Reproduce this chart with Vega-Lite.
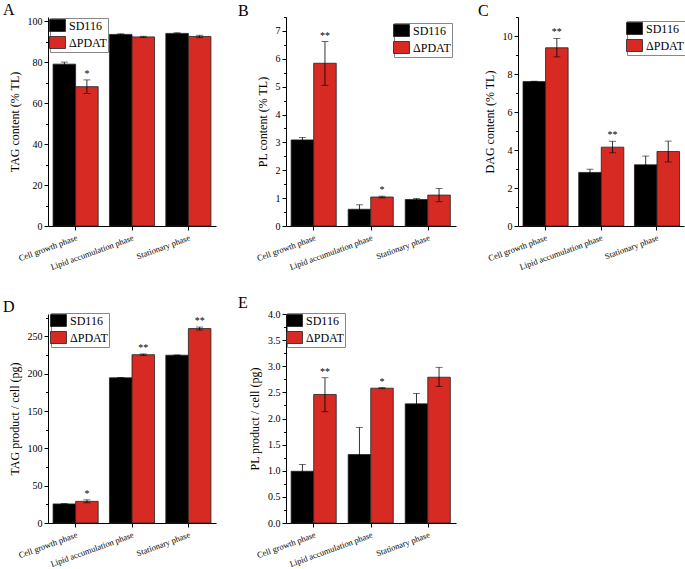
{
"$schema": "https://vega.github.io/schema/vega-lite/v6.json",
"padding": {"left": 3, "top": 2, "right": 2, "bottom": 2},
"background": "white",
"datasets": {
"A": [
{"phase": "Cell growth phase", "strain": "SD116", "value": 79.0, "lo": 78.0, "hi": 80.0, "sig": ""},
{"phase": "Cell growth phase", "strain": "ΔPDAT", "value": 68.0, "lo": 64.7, "hi": 71.3, "sig": "*"},
{"phase": "Lipid accumulation phase", "strain": "SD116", "value": 93.5, "lo": 93.2, "hi": 93.8, "sig": ""},
{"phase": "Lipid accumulation phase", "strain": "ΔPDAT", "value": 92.3, "lo": 92.0, "hi": 92.6, "sig": ""},
{"phase": "Stationary phase", "strain": "SD116", "value": 94.0, "lo": 93.7, "hi": 94.3, "sig": ""},
{"phase": "Stationary phase", "strain": "ΔPDAT", "value": 92.5, "lo": 91.9, "hi": 93.1, "sig": ""}
],
"B": [
{"phase": "Cell growth phase", "strain": "SD116", "value": 3.09, "lo": 3.0, "hi": 3.18, "sig": ""},
{"phase": "Cell growth phase", "strain": "ΔPDAT", "value": 5.84, "lo": 5.05, "hi": 6.62, "sig": "**"},
{"phase": "Lipid accumulation phase", "strain": "SD116", "value": 0.60, "lo": 0.44, "hi": 0.76, "sig": ""},
{"phase": "Lipid accumulation phase", "strain": "ΔPDAT", "value": 1.04, "lo": 1.01, "hi": 1.07, "sig": "*"},
{"phase": "Stationary phase", "strain": "SD116", "value": 0.95, "lo": 0.91, "hi": 0.99, "sig": ""},
{"phase": "Stationary phase", "strain": "ΔPDAT", "value": 1.11, "lo": 0.87, "hi": 1.35, "sig": ""}
],
"C": [
{"phase": "Cell growth phase", "strain": "SD116", "value": 7.60, "lo": 7.58, "hi": 7.62, "sig": ""},
{"phase": "Cell growth phase", "strain": "ΔPDAT", "value": 9.38, "lo": 8.9, "hi": 9.87, "sig": "**"},
{"phase": "Lipid accumulation phase", "strain": "SD116", "value": 2.82, "lo": 2.65, "hi": 2.99, "sig": ""},
{"phase": "Lipid accumulation phase", "strain": "ΔPDAT", "value": 4.15, "lo": 3.85, "hi": 4.46, "sig": "**"},
{"phase": "Stationary phase", "strain": "SD116", "value": 3.22, "lo": 2.76, "hi": 3.68, "sig": ""},
{"phase": "Stationary phase", "strain": "ΔPDAT", "value": 3.92, "lo": 3.37, "hi": 4.47, "sig": ""}
],
"D": [
{"phase": "Cell growth phase", "strain": "SD116", "value": 25.5, "lo": 25.0, "hi": 26.0, "sig": ""},
{"phase": "Cell growth phase", "strain": "ΔPDAT", "value": 29.0, "lo": 27.0, "hi": 31.0, "sig": "*"},
{"phase": "Lipid accumulation phase", "strain": "SD116", "value": 194.5, "lo": 194.0, "hi": 195.0, "sig": ""},
{"phase": "Lipid accumulation phase", "strain": "ΔPDAT", "value": 225.5, "lo": 224.5, "hi": 226.5, "sig": "**"},
{"phase": "Stationary phase", "strain": "SD116", "value": 224.8, "lo": 224.4, "hi": 225.2, "sig": ""},
{"phase": "Stationary phase", "strain": "ΔPDAT", "value": 260.5, "lo": 258.5, "hi": 262.5, "sig": "**"}
],
"E": [
{"phase": "Cell growth phase", "strain": "SD116", "value": 0.99, "lo": 0.86, "hi": 1.12, "sig": ""},
{"phase": "Cell growth phase", "strain": "ΔPDAT", "value": 2.46, "lo": 2.13, "hi": 2.78, "sig": "**"},
{"phase": "Lipid accumulation phase", "strain": "SD116", "value": 1.31, "lo": 0.79, "hi": 1.83, "sig": ""},
{"phase": "Lipid accumulation phase", "strain": "ΔPDAT", "value": 2.58, "lo": 2.57, "hi": 2.59, "sig": "*"},
{"phase": "Stationary phase", "strain": "SD116", "value": 2.28, "lo": 2.08, "hi": 2.48, "sig": ""},
{"phase": "Stationary phase", "strain": "ΔPDAT", "value": 2.79, "lo": 2.61, "hi": 2.98, "sig": ""}
]
},
"spacing": 23,
"resolve": {"scale": {"color": "independent"}, "legend": {"color": "independent"}},
"vconcat": [
{
"hconcat": [
{
"title": {"text": "A", "dx": -45},
"width": 168, "height": 209,
"data": {"name": "A"},
"encoding": {
"x": {"field": "phase", "type": "nominal", "sort": ["Cell growth phase", "Lipid accumulation phase", "Stationary phase"], "scale": {"paddingInner": 0.2, "paddingOuter": 0.09}, "axis": {"title": null}},
"xOffset": {"field": "strain", "type": "nominal", "sort": ["SD116", "ΔPDAT"]}
},
"resolve": {"scale": {"y": "independent"}},
"layer": [
{"mark": {"type": "bar", "stroke": "#222", "strokeWidth": 0.8},
"encoding": {"y": {"field": "value", "type": "quantitative", "scale": {"domain": [0, 102], "nice": false}, "axis": {"title": "TAG content (% TL)", "values": [0, 20, 40, 60, 80, 100]}},
"color": {"field": "strain", "type": "nominal", "sort": ["SD116", "ΔPDAT"], "scale": {"domain": ["SD116", "ΔPDAT"], "range": ["#000000", "#d62a22"]}, "legend": {"orient": "none", "legendX": 2, "legendY": 1}}}},
{"mark": {"type": "rule", "color": "black", "strokeWidth": 0.8},
"encoding": {"y": {"field": "lo", "type": "quantitative", "scale": {"domain": [0, 102], "nice": false}, "axis": {"orient": "left", "values": [10, 30, 50, 70, 90], "labels": false, "domain": false, "tickSize": 2.5, "title": null}}, "y2": {"field": "hi"}}},
{"mark": {"type": "tick", "color": "black", "size": 7, "thickness": 0.8}, "encoding": {"y": {"field": "lo", "type": "quantitative", "scale": {"domain": [0, 102], "nice": false}, "axis": null}}},
{"mark": {"type": "tick", "color": "black", "size": 7, "thickness": 0.8}, "encoding": {"y": {"field": "hi", "type": "quantitative", "scale": {"domain": [0, 102], "nice": false}, "axis": null}}},
{"transform": [{"filter": "datum.sig != ''"}], "mark": {"type": "text", "baseline": "bottom", "dy": -1, "fontSize": 10, "font": "Liberation Serif"},
"encoding": {"y": {"field": "hi", "type": "quantitative", "scale": {"domain": [0, 102], "nice": false}, "axis": null}, "text": {"field": "sig"}}}
]
},
{
"title": {"text": "B", "dx": -48},
"width": 170, "height": 209,
"data": {"name": "B"},
"encoding": {
"x": {"field": "phase", "type": "nominal", "sort": ["Cell growth phase", "Lipid accumulation phase", "Stationary phase"], "scale": {"paddingInner": 0.2, "paddingOuter": 0.09}, "axis": {"title": null}},
"xOffset": {"field": "strain", "type": "nominal", "sort": ["SD116", "ΔPDAT"]}
},
"resolve": {"scale": {"y": "independent"}},
"layer": [
{"mark": {"type": "bar", "stroke": "#222", "strokeWidth": 0.8},
"encoding": {"y": {"field": "value", "type": "quantitative", "scale": {"domain": [0, 7.5], "nice": false}, "axis": {"title": "PL content (% TL)", "values": [0, 1, 2, 3, 4, 5, 6, 7]}},
"color": {"field": "strain", "type": "nominal", "sort": ["SD116", "ΔPDAT"], "scale": {"domain": ["SD116", "ΔPDAT"], "range": ["#000000", "#d62a22"]}, "legend": {"orient": "none", "legendX": 108, "legendY": 6}}}},
{"mark": {"type": "rule", "color": "black", "strokeWidth": 0.8},
"encoding": {"y": {"field": "lo", "type": "quantitative", "scale": {"domain": [0, 7.5], "nice": false}, "axis": {"orient": "left", "values": [0.5, 1.5, 2.5, 3.5, 4.5, 5.5, 6.5, 7.5], "labels": false, "domain": false, "tickSize": 2.5, "title": null}}, "y2": {"field": "hi"}}},
{"mark": {"type": "tick", "color": "black", "size": 7, "thickness": 0.8}, "encoding": {"y": {"field": "lo", "type": "quantitative", "scale": {"domain": [0, 7.5], "nice": false}, "axis": null}}},
{"mark": {"type": "tick", "color": "black", "size": 7, "thickness": 0.8}, "encoding": {"y": {"field": "hi", "type": "quantitative", "scale": {"domain": [0, 7.5], "nice": false}, "axis": null}}},
{"transform": [{"filter": "datum.sig != ''"}], "mark": {"type": "text", "baseline": "bottom", "dy": -1, "fontSize": 10, "font": "Liberation Serif"},
"encoding": {"y": {"field": "hi", "type": "quantitative", "scale": {"domain": [0, 7.5], "nice": false}, "axis": null}, "text": {"field": "sig"}}}
]
},
{
"title": {"text": "C", "dx": -40},
"width": 166, "height": 209,
"data": {"name": "C"},
"encoding": {
"x": {"field": "phase", "type": "nominal", "sort": ["Cell growth phase", "Lipid accumulation phase", "Stationary phase"], "scale": {"paddingInner": 0.2, "paddingOuter": 0.09}, "axis": {"title": null}},
"xOffset": {"field": "strain", "type": "nominal", "sort": ["SD116", "ΔPDAT"]}
},
"resolve": {"scale": {"y": "independent"}},
"layer": [
{"mark": {"type": "bar", "stroke": "#222", "strokeWidth": 0.8},
"encoding": {"y": {"field": "value", "type": "quantitative", "scale": {"domain": [0, 11], "nice": false}, "axis": {"title": "DAG content (% TL)", "values": [0, 2, 4, 6, 8, 10]}},
"color": {"field": "strain", "type": "nominal", "sort": ["SD116", "ΔPDAT"], "scale": {"domain": ["SD116", "ΔPDAT"], "range": ["#000000", "#d62a22"]}, "legend": {"orient": "none", "legendX": 109, "legendY": 4}}}},
{"mark": {"type": "rule", "color": "black", "strokeWidth": 0.8},
"encoding": {"y": {"field": "lo", "type": "quantitative", "scale": {"domain": [0, 11], "nice": false}, "axis": {"orient": "left", "values": [1, 3, 5, 7, 9, 11], "labels": false, "domain": false, "tickSize": 2.5, "title": null}}, "y2": {"field": "hi"}}},
{"mark": {"type": "tick", "color": "black", "size": 7, "thickness": 0.8}, "encoding": {"y": {"field": "lo", "type": "quantitative", "scale": {"domain": [0, 11], "nice": false}, "axis": null}}},
{"mark": {"type": "tick", "color": "black", "size": 7, "thickness": 0.8}, "encoding": {"y": {"field": "hi", "type": "quantitative", "scale": {"domain": [0, 11], "nice": false}, "axis": null}}},
{"transform": [{"filter": "datum.sig != ''"}], "mark": {"type": "text", "baseline": "bottom", "dy": -1, "fontSize": 10, "font": "Liberation Serif"},
"encoding": {"y": {"field": "hi", "type": "quantitative", "scale": {"domain": [0, 11], "nice": false}, "axis": null}, "text": {"field": "sig"}}}
]
}
],
"spacing": 22,
"resolve": {"scale": {"color": "independent"}, "legend": {"color": "independent"}}
},
{
"hconcat": [
{
"title": {"text": "D", "dx": -45},
"width": 168, "height": 209,
"data": {"name": "D"},
"encoding": {
"x": {"field": "phase", "type": "nominal", "sort": ["Cell growth phase", "Lipid accumulation phase", "Stationary phase"], "scale": {"paddingInner": 0.2, "paddingOuter": 0.09}, "axis": {"title": null}},
"xOffset": {"field": "strain", "type": "nominal", "sort": ["SD116", "ΔPDAT"]}
},
"resolve": {"scale": {"y": "independent"}},
"layer": [
{"mark": {"type": "bar", "stroke": "#222", "strokeWidth": 0.8},
"encoding": {"y": {"field": "value", "type": "quantitative", "scale": {"domain": [0, 280], "nice": false}, "axis": {"title": "TAG product / cell (pg)", "values": [0, 50, 100, 150, 200, 250]}},
"color": {"field": "strain", "type": "nominal", "sort": ["SD116", "ΔPDAT"], "scale": {"domain": ["SD116", "ΔPDAT"], "range": ["#000000", "#d62a22"]}, "legend": {"orient": "none", "legendX": 3, "legendY": -1}}}},
{"mark": {"type": "rule", "color": "black", "strokeWidth": 0.8},
"encoding": {"y": {"field": "lo", "type": "quantitative", "scale": {"domain": [0, 280], "nice": false}, "axis": {"orient": "left", "values": [25, 75, 125, 175, 225, 275], "labels": false, "domain": false, "tickSize": 2.5, "title": null}}, "y2": {"field": "hi"}}},
{"mark": {"type": "tick", "color": "black", "size": 7, "thickness": 0.8}, "encoding": {"y": {"field": "lo", "type": "quantitative", "scale": {"domain": [0, 280], "nice": false}, "axis": null}}},
{"mark": {"type": "tick", "color": "black", "size": 7, "thickness": 0.8}, "encoding": {"y": {"field": "hi", "type": "quantitative", "scale": {"domain": [0, 280], "nice": false}, "axis": null}}},
{"transform": [{"filter": "datum.sig != ''"}], "mark": {"type": "text", "baseline": "bottom", "dy": -1, "fontSize": 10, "font": "Liberation Serif"},
"encoding": {"y": {"field": "hi", "type": "quantitative", "scale": {"domain": [0, 280], "nice": false}, "axis": null}, "text": {"field": "sig"}}}
]
},
{
"title": {"text": "E", "dx": -48},
"width": 170, "height": 209,
"data": {"name": "E"},
"encoding": {
"x": {"field": "phase", "type": "nominal", "sort": ["Cell growth phase", "Lipid accumulation phase", "Stationary phase"], "scale": {"paddingInner": 0.2, "paddingOuter": 0.09}, "axis": {"title": null}},
"xOffset": {"field": "strain", "type": "nominal", "sort": ["SD116", "ΔPDAT"]}
},
"resolve": {"scale": {"y": "independent"}},
"layer": [
{"mark": {"type": "bar", "stroke": "#222", "strokeWidth": 0.8},
"encoding": {"y": {"field": "value", "type": "quantitative", "scale": {"domain": [0, 4], "nice": false}, "axis": {"title": "PL product / cell (pg)", "values": [0, 0.5, 1, 1.5, 2, 2.5, 3, 3.5, 4], "format": ".1f"}},
"color": {"field": "strain", "type": "nominal", "sort": ["SD116", "ΔPDAT"], "scale": {"domain": ["SD116", "ΔPDAT"], "range": ["#000000", "#d62a22"]}, "legend": {"orient": "none", "legendX": 1, "legendY": -1}}}},
{"mark": {"type": "rule", "color": "black", "strokeWidth": 0.8},
"encoding": {"y": {"field": "lo", "type": "quantitative", "scale": {"domain": [0, 4], "nice": false}, "axis": {"orient": "left", "values": [0.25, 0.75, 1.25, 1.75, 2.25, 2.75, 3.25, 3.75], "labels": false, "domain": false, "tickSize": 2.5, "title": null}}, "y2": {"field": "hi"}}},
{"mark": {"type": "tick", "color": "black", "size": 7, "thickness": 0.8}, "encoding": {"y": {"field": "lo", "type": "quantitative", "scale": {"domain": [0, 4], "nice": false}, "axis": null}}},
{"mark": {"type": "tick", "color": "black", "size": 7, "thickness": 0.8}, "encoding": {"y": {"field": "hi", "type": "quantitative", "scale": {"domain": [0, 4], "nice": false}, "axis": null}}},
{"transform": [{"filter": "datum.sig != ''"}], "mark": {"type": "text", "baseline": "bottom", "dy": -1, "fontSize": 10, "font": "Liberation Serif"},
"encoding": {"y": {"field": "hi", "type": "quantitative", "scale": {"domain": [0, 4], "nice": false}, "axis": null}, "text": {"field": "sig"}}}
]
}
],
"spacing": 22,
"resolve": {"scale": {"color": "independent"}, "legend": {"color": "independent"}}
}
],
"config": {
"font": "Liberation Serif",
"view": {"stroke": null},
"axis": {"labelFont": "Liberation Serif", "titleFont": "Liberation Serif", "labelColor": "black", "titleColor": "black", "domainColor": "black", "tickColor": "black", "grid": false, "labelFontSize": 10, "titleFontSize": 12, "titleFontWeight": "normal", "tickSize": 4, "domainWidth": 1, "tickWidth": 1, "labelPadding": 2, "titlePadding": 6},
"axisX": {"labelAngle": -20, "labelAlign": "right", "labelBaseline": "top", "labelFontSize": 8.5, "labelPadding": 3},
"title": {"anchor": "start", "fontSize": 16, "fontWeight": "normal", "font": "Liberation Serif", "color": "black", "frame": "group", "offset": -2},
"legend": {"title": null, "symbolType": "M-1.333,-1H1.333V1H-1.333Z", "symbolSize": 144, "symbolStrokeColor": "#222", "symbolStrokeWidth": 0.8, "symbolOpacity": 1, "labelFont": "Liberation Serif", "labelFontSize": 12, "labelColor": "black", "strokeColor": "#888", "fillColor": "white", "padding": 1, "rowPadding": 0, "labelOffset": 5}
}
}
